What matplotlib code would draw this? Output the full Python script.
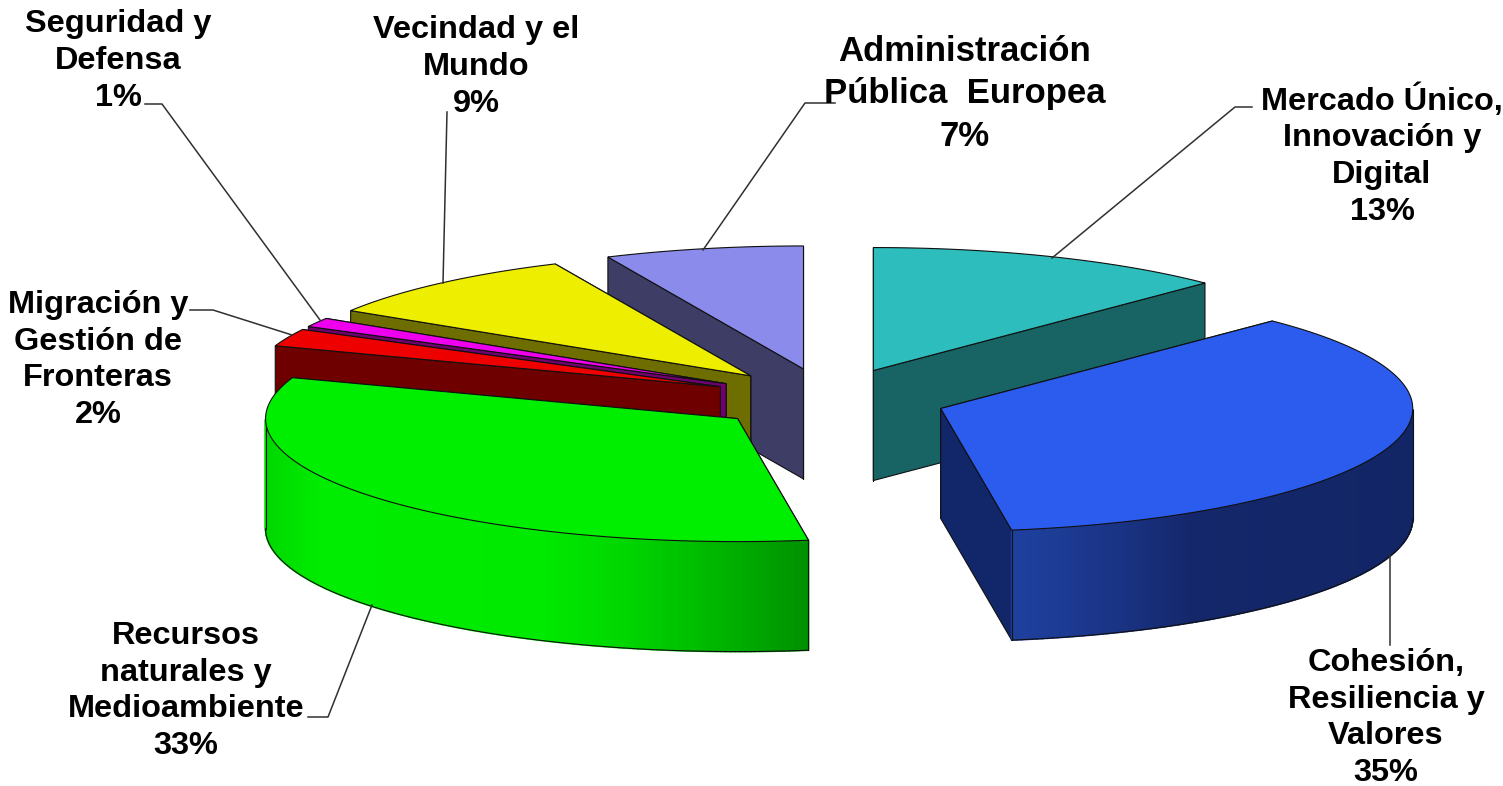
import matplotlib
matplotlib.use("Agg")
import matplotlib.pyplot as plt
import numpy as np
from matplotlib.collections import PolyCollection
from matplotlib.colors import to_rgb

plt.rcParams['font.family'] = ['Liberation Sans', 'DejaVu Sans']

categorias = ['Mercado Único, Innovación y Digital', 'Cohesión, Resiliencia y Valores',
              'Recursos naturales y Medioambiente', 'Migración y Gestión de Fronteras',
              'Seguridad y Defensa', 'Vecindad y el Mundo', 'Administración Pública Europea']
valores = [12.4, 35.2, 32.8, 2.3, 1.2, 9.3, 6.8]
etiquetas = ['Mercado Único,\nInnovación y\nDigital\n13%',
             'Cohesión,\nResiliencia y\nValores\n35%',
             'Recursos\nnaturales y\nMedioambiente\n33%',
             'Migración y\nGestión de\nFronteras\n2%',
             'Seguridad y\nDefensa\n1%',
             'Vecindad y el\nMundo\n9%',
             'Administración\nPública  Europea\n7%']

colores_top = ['#2DBDBD', '#2B5CEE', '#00EE00', '#EE0000', '#EE00EE', '#EEEE00', '#8B8BEB']
colores_lado = ['#186464', '#12266A', '#00E000', '#6E0000', '#700070', '#6E6E00', '#3D3D66']

# gradient of the outer rim, only the two front slices show it
rim_stops = {1: [(0, '#1E409E'), (0.15, '#1C3A92'), (0.3, '#193180'), (0.45, '#14276A'), (1, '#122565')],
             2: [(0, '#00D800'), (0.1, '#00EC00'), (0.5, '#00EA00'), (0.65, '#00D800'),
                 (0.8, '#00BC00'), (1, '#009000')]}

# pie geometry in pixels
cx, cy = 828.5, 399
rx, ry = 472, 123
alto = 110
explode = 0.25

# label centres and leader lines
pos_texto = [(1382, 155), (1386, 718), (186, 691), (98, 360), (118, 61), (476, 67), (965, 94)]
size_texto = [23.4, 23.4, 23.4, 23.4, 23.4, 23.4, 25]
salto_texto = [1.29, 1.29, 1.29, 1.29, 1.29, 1.29, 1.37]
lineas = [[(1252, 107), (1235, 107), (1052, 258)],
          [(1390, 555), (1390, 645)],
          [(372, 605), (328, 717), (308, 717)],
          [(190, 310), (213, 310), (292, 335)],
          [(145, 104), (162, 104), (320, 320)],
          [(447, 112), (443, 283)],
          [(835, 103), (805, 103), (703, 250)]]

fig = plt.figure(figsize=(15.03, 7.86), dpi=100)
ax = fig.add_axes([0, 0, 1, 1])
ax.set_xlim(0, 1503)
ax.set_ylim(786, 0)
ax.axis('off')

limites = np.cumsum([0] + valores) / sum(valores) * 2 * np.pi


def punto(ox, oy, t):
    return ox + rx * np.sin(t), oy - ry * np.cos(t)


def color_rim(stops, f):
    fs = [s[0] for s in stops]
    cs = np.array([to_rgb(s[1]) for s in stops])
    return [np.interp(f, fs, cs[:, k]) for k in range(3)]


def dibuja_porcion(i, z):
    t0, t1 = limites[i], limites[i + 1]
    medio = (t0 + t1) / 2
    ox = cx + explode * rx * np.sin(medio)
    oy = cy - explode * ry * np.cos(medio)
    ts = np.linspace(t0, t1, 200)
    xs, ys = punto(ox, oy, ts)

    # cut walls, back one first; the top face hides the ones facing away
    cortes = sorted((t0, t1), key=lambda t: punto(ox, oy, t)[1])
    for t in cortes:
        x1, y1 = punto(ox, oy, t)
        muro = [(ox, oy), (x1, y1), (x1, y1 + alto), (ox, oy + alto)]
        ax.fill(*zip(*muro), facecolor=colores_lado[i], edgecolor='#101010', lw=0.8, zorder=z)

    # outer rim, drawn as small quads so the colour can change along x
    frente = np.cos(ts) < 0
    if frente.any():
        xf, yf = xs[frente], ys[frente]
        quads = []
        cols = []
        for k in range(len(xf) - 1):
            quads.append([(xf[k], yf[k]), (xf[k + 1], yf[k + 1]),
                          (xf[k + 1], yf[k + 1] + alto), (xf[k], yf[k] + alto)])
            f = ((xf[k] + xf[k + 1]) / 2 - xf.min()) / (xf.max() - xf.min())
            cols.append(color_rim(rim_stops[i], f) if i in rim_stops else colores_lado[i])
        ax.add_collection(PolyCollection(quads, facecolors=cols, edgecolors=cols, lw=1.2, zorder=z))
        ax.plot(xf, yf + alto, color='#101010', lw=0.8, zorder=z + 0.1)
        for k in (0, -1):
            ax.plot([xf[k], xf[k]], [yf[k], yf[k] + alto], color='#101010', lw=0.8, zorder=z + 0.1)

    # top face
    ax.fill(np.r_[ox, xs], np.r_[oy, ys], facecolor=colores_top[i], edgecolor='#101010',
            lw=0.8, zorder=z + 0.2)


orden = [6, 5, 4, 3, 2, 0, 1]
for z, i in enumerate(orden):
    dibuja_porcion(i, z + 1)

for linea in lineas:
    ax.plot(*zip(*linea), color='#303030', lw=1.1, zorder=20)

for texto, (x, y), s, salto in zip(etiquetas, pos_texto, size_texto, salto_texto):
    ax.text(x, y, texto, ha='center', va='center', fontsize=s, fontweight='bold',
            linespacing=salto, color='black', zorder=30)

fig.savefig('out.png', dpi=100)
